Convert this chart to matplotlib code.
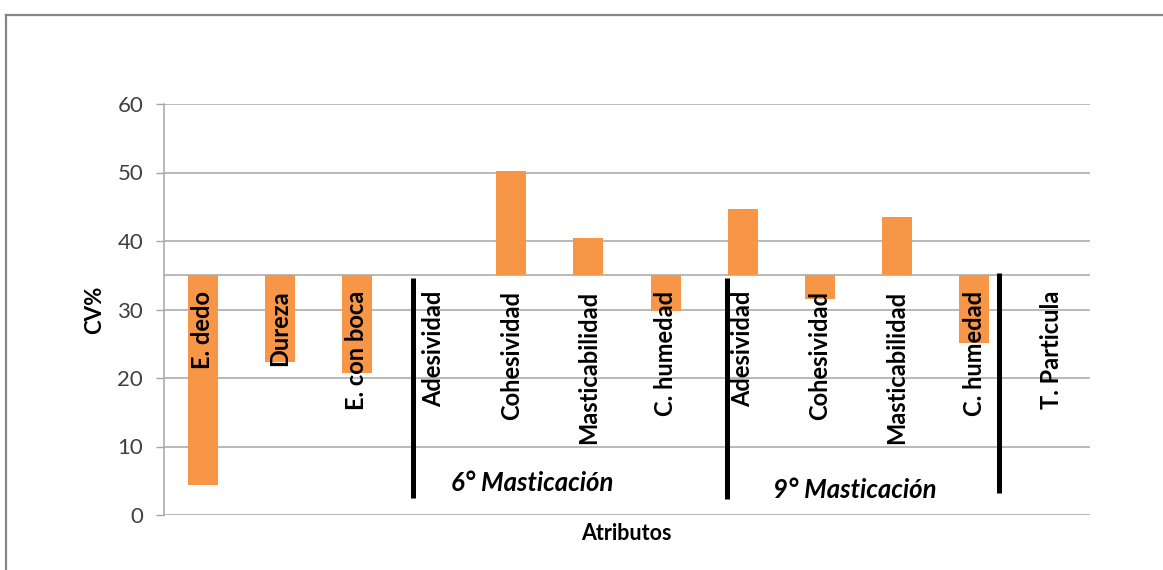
import matplotlib
matplotlib.use("Agg")
import matplotlib.pyplot as plt
from matplotlib.lines import Line2D

plt.rcParams['font.family'] = ['Lato', 'DejaVu Sans']

# Attributes and their coefficient of variation (%)
categories = ["E. dedo", "Dureza", "E. con boca",
              "Adesividad", "Cohesividad", "Masticabilidad", "C. humedad",
              "Adesividad", "Cohesividad", "Masticabilidad", "C. humedad",
              "T. Particula"]
cv_values = [4.4, 22.4, 20.8,
             35.0, 50.2, 40.5, 29.8,
             44.7, 31.5, 43.5, 25.1,
             35.0]
baseline = 35.0

y_ticks = [0, 10, 20, 30, 40, 50, 60]
group_labels = ["6° Masticación", "9° Masticación"]

bar_color = "#F79646"
grid_color = "#A6A6A6"
tick_color = "#404040"

fig = plt.figure(figsize=(11.63, 5.70), dpi=100)
ax = fig.add_axes([164 / 1163, 1 - 515 / 570, (1090 - 164) / 1163, (515 - 104) / 570])

x = list(range(len(categories)))
heights = [v - baseline for v in cv_values]
ax.bar(x, heights, bottom=baseline, width=0.39, color=bar_color, zorder=3)

ax.set_xlim(-0.5, len(categories) - 0.5)
ax.set_ylim(0, 60)
ax.set_yticks(y_ticks)
ax.set_yticklabels([str(t) for t in y_ticks], fontsize=16, color=tick_color)
ax.tick_params(axis='y', length=6, width=1, color=grid_color, pad=9)
ax.set_xticks([])

ax.grid(axis='y', color=grid_color, linewidth=1.1, zorder=0)
ax.axhline(baseline, color=grid_color, linewidth=1.1, zorder=1)
for side in ("top", "right", "bottom"):
    ax.spines[side].set_visible(False)
ax.spines["left"].set_color(grid_color)
ax.spines["left"].set_linewidth(1.1)

# Category names hang below the horizontal axis at the baseline
for xi, name in zip(x, categories):
    ax.annotate(name, xy=(xi, baseline), xytext=(0, -11), textcoords="offset points",
                rotation=90, ha="center", va="top", fontsize=17, fontweight="bold",
                color="black", zorder=4)

# Separators between the groups of attributes
separators = [(2.73, 2.5, 34.6), (6.8, 2.4, 34.6), (10.32, 3.2, 35.3)]
for sx, y0, y1 in separators:
    ax.plot([sx, sx], [y0, y1], color="black", linewidth=3.6, solid_capstyle="butt", zorder=5)

ax.text(4.27, 4.7, group_labels[0], ha="center", va="center", fontsize=18.5,
        fontweight="bold", fontstyle="italic", color="black")
ax.text(8.45, 3.65, group_labels[1], ha="center", va="center", fontsize=18.5,
        fontweight="bold", fontstyle="italic", color="black")

fig.text(95 / 1163, 1 - 310 / 570, "CV%", ha="center", va="center", rotation=90,
         fontsize=16, fontweight="bold")
fig.text(626 / 1163, 1 - 534 / 570, "Atributos", ha="center", va="center",
         fontsize=15.5, fontweight="bold")

# Outer chart frame
frame_color = "#878787"
fig.add_artist(Line2D([6 / 1163, 1], [1 - 15 / 570, 1 - 15 / 570],
                      transform=fig.transFigure, color=frame_color, linewidth=1.6))
fig.add_artist(Line2D([6 / 1163, 6 / 1163], [0, 1 - 15 / 570],
                      transform=fig.transFigure, color=frame_color, linewidth=1.6))

fig.savefig("out.png", dpi=100)
